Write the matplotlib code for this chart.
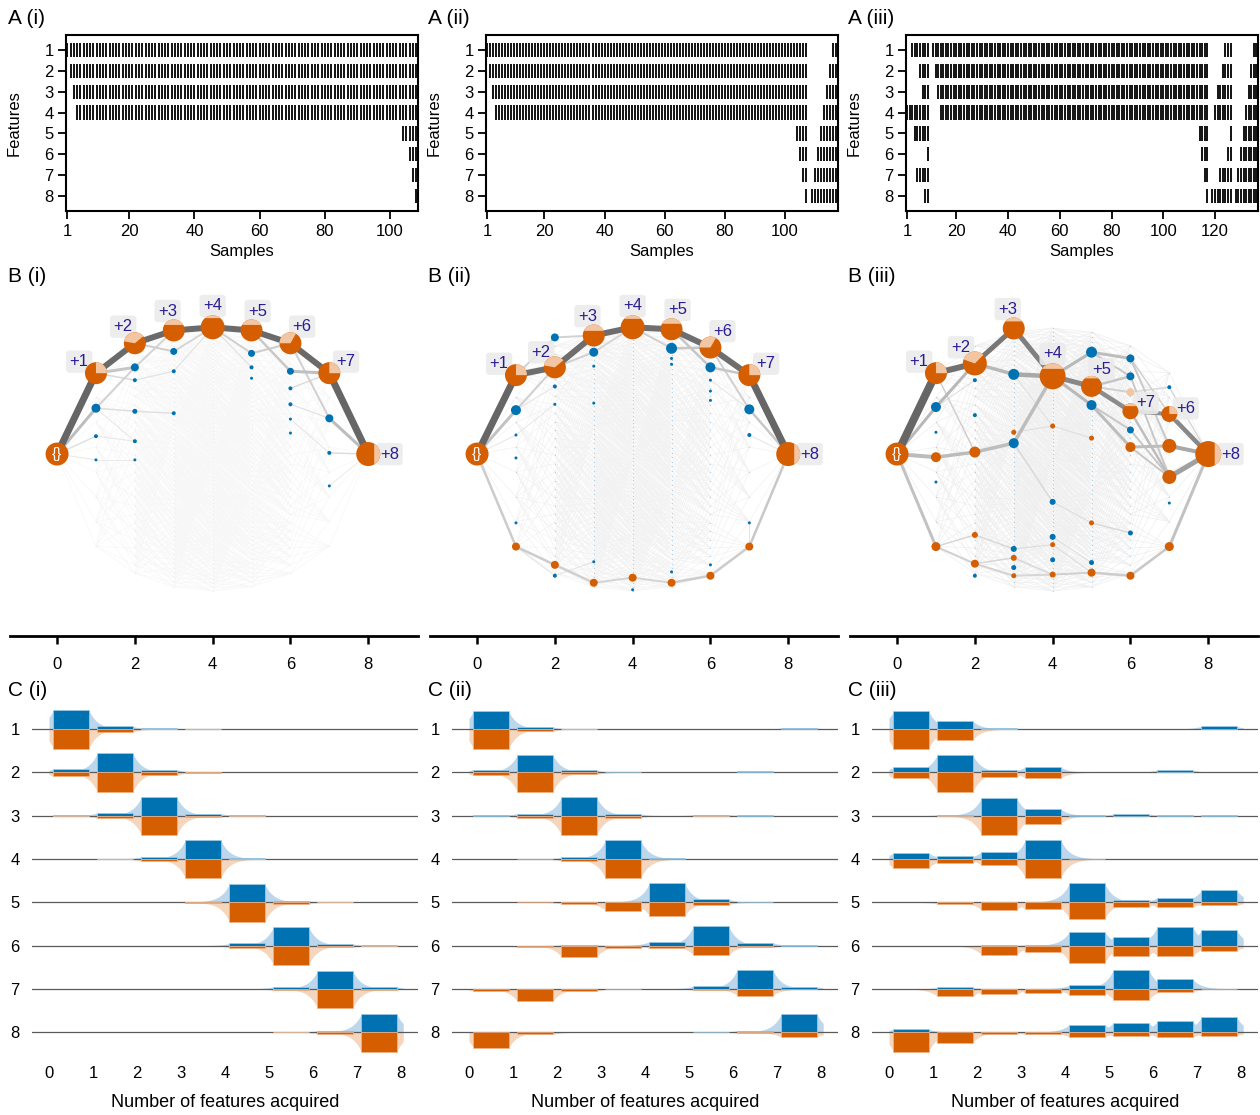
import itertools
import numpy as np
import matplotlib
matplotlib.use("Agg")
import matplotlib.pyplot as plt
from matplotlib.patches import Circle, Wedge, Polygon
from matplotlib.collections import LineCollection

plt.rcParams["font.family"] = ["Liberation Sans", "DejaVu Sans"]

ORANGE = "#d55e00"
BLUE = "#0072b2"
PEACH = "#f2c6a3"
LIGHT_BLUE = "#bcd7eb"
LIGHT_ORANGE = "#f6d5bd"
LABEL_COL = "#2a1d93"

# ---------------- A: samples as (features present, number of samples) ----------------
samples_a1 = [("1", 1), ("12", 1), ("123", 1), ("1234", 100), ("12345", 2),
              ("123456", 1), ("1234567", 1), ("12345678", 1)]
samples_a2 = [("1", 1), ("12", 1), ("123", 1), ("1234", 100), ("12345", 1),
              ("123456", 1), ("1234567", 1), ("12345678", 1), ("", 1),
              ("8", 1), ("78", 1), ("678", 1), ("5678", 1), ("45678", 1),
              ("345678", 1), ("2345678", 1), ("12345678", 2)]
samples_a3 = [("4", 2), ("14", 1), ("145", 1), ("1457", 1), ("12457", 1),
              ("123457", 1), ("1234578", 1), ("12345678", 1), ("", 1),
              ("1", 1), ("12", 1), ("123", 1), ("1234", 100), ("12345", 1),
              ("123456", 1), ("1234567", 1), ("12345678", 1), ("", 1),
              ("8", 1), ("48", 1), ("348", 1), ("3478", 1), ("23478", 1),
              ("123478", 1), ("1234678", 1), ("12345678", 1), ("", 1),
              ("8", 1), ("78", 1), ("678", 1), ("5678", 1), ("45678", 1),
              ("345678", 1), ("2345678", 1), ("12345678", 2)]
xticks_a12 = [1, 20, 40, 60, 80, 100]
xticks_a3 = [1, 20, 40, 60, 80, 100, 120]

# ---------------- B: highlighted nodes of the feature lattice ----------------
# level = number of features, y = vertical position (x-axis units), col o/b/p, rad in px
b1_level = [0, 1, 1, 1, 1, 2, 2, 2, 2, 2, 2, 3, 3, 3, 3, 4, 5, 5, 5, 5,
            6, 6, 6, 6, 6, 6, 7, 7, 7, 7, 8]
b1_y = [0.0, 2.08, 1.18, 0.46, -0.15, 2.85, 2.23, 1.90, 1.10, 0.33, -0.15,
        3.18, 2.64, 2.13, 1.05, 3.26, 3.18, 2.59, 2.23, 1.95, 2.85, 2.13,
        1.69, 1.28, 0.90, 0.54, 2.08, 0.92, 0.03, -0.82, 0.0]
b1_col = "o" + "obbb" + "obbbbb" + "obbb" + "o" + "obbb" + "obbbbb" + "obbb" + "o"
b1_rad = [11.5, 11, 4.5, 2, 1.5, 11, 4, 2, 2.5, 2, 1.5, 11, 3.5, 2, 2, 12,
          11, 3.5, 2, 1.5, 11, 3.5, 2, 2, 1.5, 1.5, 11, 4, 2, 1.5, 12]
b1_path = [0, 1, 5, 11, 15, 16, 20, 26, 30]
b1_labels = ["{}", "+1", "+2", "+3", "+4", "+5", "+6", "+7", "+8"]
b1_light = {1: (0, 90), 5: (40, 170), 11: (30, 150), 15: (50, 130),
            16: (30, 150), 20: (60, 180), 26: (0, 90), 30: (-60, 60)}
b1_edges = [(0, 1, 7, "#666666"), (1, 5, 6, "#6a6a6a"), (5, 11, 6, "#6a6a6a"),
            (11, 15, 6, "#6a6a6a"), (15, 16, 6, "#6a6a6a"), (16, 20, 6, "#6a6a6a"),
            (20, 26, 6, "#6a6a6a"), (26, 30, 7, "#666666"),
            (0, 2, 3, "#bdbdbd"), (1, 6, 3, "#c6c6c6"), (2, 6, 2, "#d2d2d2"),
            (2, 8, 1.5, "#dedede"), (8, 14, 1.5, "#e0e0e0"), (6, 11, 2, "#d4d4d4"),
            (5, 12, 2, "#cfcfcf"), (12, 15, 2, "#d6d6d6"), (13, 15, 1.2, "#e2e2e2"),
            (15, 17, 2, "#d0d0d0"), (17, 20, 2, "#cdcdcd"), (16, 21, 2.5, "#c8c8c8"),
            (21, 26, 3, "#bfbfbf"), (20, 27, 2, "#d0d0d0"), (27, 30, 3, "#bdbdbd"),
            (28, 30, 1.5, "#dcdcdc"), (0, 3, 1.5, "#e0e0e0"), (0, 4, 1, "#e8e8e8"),
            (3, 9, 1, "#e6e6e6"), (1, 7, 1.5, "#dadada"), (7, 13, 1.2, "#e2e2e2"),
            (15, 18, 1.2, "#e2e2e2"), (22, 26, 1.5, "#dcdcdc"), (23, 27, 1.2, "#e2e2e2"),
            (24, 28, 1, "#e6e6e6"), (29, 30, 1, "#ebebeb"), (4, 10, 1, "#eaeaea"),
            (2, 9, 1, "#e6e6e6")]

b2_level = [0, 1, 1, 1, 1, 1, 1, 2, 2, 2, 2, 2, 2, 3, 3, 3, 3, 3, 3, 4, 4, 4,
            5, 5, 5, 5, 5, 5, 6, 6, 6, 6, 6, 6, 6, 7, 7, 7, 7, 7, 8]
b2_y = [0.0, 2.03, 1.13, 0.49, -0.10, -1.77, -2.38, 2.23, 3.00, 1.74, 1.28,
        -2.85, -3.13, 3.05, 2.62, 2.26, 1.31, -2.77, -3.31, 3.26, -3.18, -3.49,
        3.21, 2.72, 2.46, 2.31, -3.03, -3.31, 2.74, 2.23, 1.90, 1.62, 1.38,
        -2.85, -3.13, 2.03, 1.15, 0.49, -1.77, -2.38, 0.0]
b2_col = "o" + "obbbbo" + "obbbob" + "obbbbo" + "oob" + "obbbbo" + "obbbbbo" + "obbbo" + "o"
b2_rad = [11.5, 11, 5, 1.5, 1.5, 1.5, 4, 11, 4, 2, 1.5, 4, 2, 11, 4.5, 1.5, 1.5,
          1.5, 4, 12, 4, 1.5, 11, 5.5, 1.5, 1.5, 1.5, 4, 11, 5, 1.5, 1.5, 1.5,
          1.5, 4, 11, 5, 2, 1.5, 4, 12]
b2_path = [0, 1, 7, 13, 19, 22, 28, 35, 40]
b2_labels = ["{}", "+1", "+2", "+3", "+4", "+5", "+6", "+7", "+8"]
b2_light = {1: (0, 90), 7: (40, 170), 13: (25, 155), 19: (45, 135),
            22: (30, 150), 28: (60, 180), 35: (0, 90), 40: (-60, 60)}
b2_edges = [(0, 1, 7, "#666666"), (1, 7, 6, "#6e6e6e"), (7, 13, 6, "#6e6e6e"),
            (13, 19, 6, "#6e6e6e"), (19, 22, 6, "#6e6e6e"), (22, 28, 6, "#6e6e6e"),
            (28, 35, 6, "#6e6e6e"), (35, 40, 7, "#666666"),
            (0, 2, 3, "#c2c2c2"), (2, 7, 2, "#d0d0d0"), (1, 8, 2, "#d2d2d2"),
            (8, 13, 2, "#d2d2d2"), (7, 14, 2, "#d0d0d0"), (14, 19, 2, "#d6d6d6"),
            (19, 23, 2, "#d0d0d0"), (23, 28, 2.5, "#c6c6c6"), (22, 29, 2.5, "#c6c6c6"),
            (29, 35, 2.5, "#c6c6c6"), (28, 36, 2, "#d0d0d0"), (36, 40, 2.5, "#c8c8c8"),
            (2, 9, 1, "#e4e4e4"), (3, 10, 1, "#e8e8e8"), (0, 3, 1, "#e6e6e6"),
            (37, 40, 1, "#e6e6e6"), (30, 36, 1, "#e4e4e4"),
            (0, 6, 2.5, "#cccccc"), (6, 11, 2.5, "#cccccc"), (11, 18, 2.5, "#d0d0d0"),
            (18, 20, 2, "#d4d4d4"), (20, 27, 2, "#d4d4d4"), (27, 34, 2.5, "#cccccc"),
            (34, 39, 2.5, "#cccccc"), (39, 40, 2.5, "#c8c8c8"), (6, 12, 1, "#e0e0e0"),
            (12, 17, 1, "#e2e2e2"), (38, 39, 1, "#e4e4e4")]

b3_level = [0, 1, 1, 1, 1, 1, 1, 2, 2, 2, 2, 2, 2, 2, 3, 3, 3, 3, 3, 3, 3, 3,
            4, 4, 4, 4, 4, 4, 4, 5, 5, 5, 5, 5, 5, 5, 6, 6, 6, 6, 6, 6, 6, 6,
            7, 7, 7, 7, 7, 7, 8]
b3_y = [0.0,
        2.08, 1.21, -0.08, 0.56, -0.72, -2.38,
        2.33, 0.05, 1.90, 1.00, -2.08, -2.82, -3.13,
        3.23, 2.05, 0.28, 0.56, -2.44, -2.67, -2.92, -3.13,
        2.00, 0.72, -1.23, -2.13, -2.33, -2.72, -3.10,
        2.62, 1.74, 1.26, 0.41, -1.77, -2.79, -3.05,
        2.46, 2.00, 1.59, 1.10, 0.62, 0.18, -2.03, -3.13,
        1.72, 1.03, 0.21, -0.59, -1.26, -2.38,
        0.0]
b3_col = "o" + "obobbo" + "oobboob" + "obbobobo" + "oobbobo" + "boboobo" + "bbpobobo" + "booobo" + "o"
b3_rad = [11.5,
          11, 5, 5, 1.5, 1.5, 4.5,
          12, 5.5, 2, 2, 3, 4, 2,
          11, 5.5, 5, 2.5, 3, 3, 2.5, 2.5,
          13, 2.5, 3, 3, 2.5, 2.5, 3,
          5.5, 10.5, 5, 2.5, 2.5, 2.5, 4,
          4, 4, 4, 8, 3.5, 5, 2.5, 4,
          2, 8, 7, 7, 1.5, 4.5,
          13]
b3_path = [0, 1, 7, 14, 22, 30, 39, 45, 50]
b3_labels = ["{}", "+1", "+2", "+3", "+4", "+5", "+7", "+6", "+8"]
b3_light = {1: (0, 90), 7: (45, 160), 14: (40, 140), 22: (35, 145),
            30: (50, 130), 39: (40, 140), 45: (0, 90), 50: (-60, 60)}
b3_edges = [(0, 1, 8, "#666666"), (1, 7, 6, "#6f6f6f"), (7, 14, 5, "#777777"),
            (14, 22, 5, "#7f7f7f"), (22, 30, 5, "#888888"), (30, 39, 4.5, "#8c8c8c"),
            (39, 45, 4, "#909090"), (45, 50, 4.5, "#888888"),
            (0, 2, 3, "#b8b8b8"), (2, 7, 3, "#b8b8b8"), (0, 3, 4, "#bcbcbc"),
            (3, 8, 3.5, "#bcbcbc"), (8, 16, 3.5, "#bdbdbd"), (16, 22, 3.5, "#bdbdbd"),
            (7, 15, 3.5, "#b8b8b8"), (15, 22, 4.5, "#a9a9a9"), (1, 8, 1.5, "#cfcfcf"),
            (22, 29, 3, "#b8b8b8"), (29, 36, 3, "#bdbdbd"), (29, 37, 2, "#c8c8c8"),
            (22, 31, 3, "#b8b8b8"), (31, 41, 3, "#bdbdbd"), (30, 37, 2.5, "#c4c4c4"),
            (36, 46, 2, "#c8c8c8"), (37, 47, 2, "#c8c8c8"), (39, 47, 2.5, "#bdbdbd"),
            (41, 46, 3, "#bdbdbd"), (46, 50, 4, "#a8a8a8"), (47, 50, 5, "#a0a0a0"),
            (41, 47, 2, "#c8c8c8"), (30, 38, 2, "#d0d0d0"), (38, 44, 1.5, "#d8d8d8"),
            (44, 50, 1.5, "#d8d8d8"), (2, 9, 1, "#dddddd"), (15, 23, 1, "#e0e0e0"),
            (31, 40, 2, "#c8c8c8"), (40, 47, 2, "#c8c8c8"), (36, 45, 1.5, "#d0d0d0"),
            (0, 6, 3, "#c2c2c2"), (6, 12, 2, "#d0d0d0"), (6, 11, 1.5, "#d6d6d6"),
            (12, 21, 2, "#d3d3d3"), (11, 18, 1.5, "#d8d8d8"), (21, 28, 2, "#d6d6d6"),
            (28, 35, 2, "#d0d0d0"), (35, 43, 2.5, "#cccccc"), (43, 49, 2.5, "#c8c8c8"),
            (49, 50, 3, "#c2c2c2"), (19, 28, 1.5, "#d8d8d8"), (18, 26, 1.2, "#dcdcdc"),
            (24, 33, 1, "#dcdcdc"), (33, 42, 1.5, "#dadada"), (17, 23, 1, "#dddddd"),
            (23, 32, 1, "#dddddd"), (16, 24, 1.5, "#d8d8d8"), (12, 19, 1.5, "#d6d6d6"),
            (26, 35, 1, "#dcdcdc"), (25, 34, 1, "#dddddd")]

# ---------------- C: fraction of samples per row (feature) and bin ----------------
c1_blue = [[0.84, 0.12, 0.03, 0.02, 0, 0, 0, 0],
           [0.14, 0.84, 0.12, 0.02, 0, 0, 0, 0],
           [0.01, 0.12, 0.81, 0.09, 0.01, 0, 0, 0],
           [0, 0.01, 0.09, 0.83, 0.02, 0, 0, 0],
           [0, 0, 0, 0.02, 0.80, 0.06, 0.01, 0],
           [0, 0, 0, 0, 0.09, 0.80, 0.07, 0.01],
           [0, 0, 0, 0, 0, 0.09, 0.78, 0.09],
           [0, 0, 0, 0, 0, 0.01, 0.06, 0.80]]
c1_orange = [[0.86, 0.13, 0.02, 0.01, 0, 0, 0, 0],
             [0.17, 0.86, 0.13, 0.01, 0, 0, 0, 0],
             [0.01, 0.12, 0.84, 0.06, 0.01, 0, 0, 0],
             [0, 0.01, 0.09, 0.84, 0.02, 0, 0, 0],
             [0, 0, 0, 0.02, 0.86, 0.06, 0.01, 0],
             [0, 0, 0, 0, 0.09, 0.84, 0.06, 0.01],
             [0, 0, 0, 0, 0, 0.06, 0.84, 0.03],
             [0, 0, 0, 0, 0, 0.01, 0.07, 0.86]]
c2_blue = [[0.77, 0.09, 0.01, 0, 0, 0, 0, 0.04],
           [0.12, 0.77, 0.09, 0.01, 0, 0, 0.04, 0],
           [0.01, 0.09, 0.80, 0.07, 0, 0.04, 0.01, 0],
           [0, 0, 0.07, 0.81, 0.02, 0, 0, 0],
           [0, 0, 0.01, 0.02, 0.83, 0.13, 0.01, 0],
           [0, 0, 0.03, 0, 0.17, 0.84, 0.12, 0.01],
           [0, 0, 0, 0, 0, 0.12, 0.84, 0.09],
           [0, 0, 0, 0, 0, 0.01, 0.06, 0.81]]
c2_orange = [[0.86, 0.10, 0.01, 0, 0, 0, 0, 0],
             [0.13, 0.86, 0.09, 0, 0, 0, 0, 0],
             [0, 0.09, 0.84, 0.09, 0, 0.01, 0, 0],
             [0, 0.01, 0.09, 0.84, 0, 0, 0, 0],
             [0, 0.01, 0.07, 0.36, 0.58, 0.10, 0, 0],
             [0, 0.07, 0.49, 0.09, 0.12, 0.41, 0.07, 0],
             [0.09, 0.55, 0.09, 0.01, 0, 0.06, 0.29, 0],
             [0.68, 0.10, 0, 0, 0, 0, 0.04, 0.22]]
c3_blue = [[0.77, 0.35, 0.03, 0, 0, 0, 0, 0.12],
           [0.22, 0.77, 0.12, 0.23, 0, 0, 0.10, 0],
           [0, 0.03, 0.77, 0.29, 0.01, 0.07, 0.01, 0.01],
           [0.26, 0.14, 0.30, 0.83, 0.01, 0, 0, 0],
           [0, 0.01, 0.01, 0.01, 0.83, 0.10, 0.19, 0.52],
           [0, 0, 0.01, 0.03, 0.60, 0.36, 0.83, 0.67],
           [0, 0.06, 0.01, 0.01, 0.16, 0.84, 0.42, 0.01],
           [0.13, 0, 0.01, 0.01, 0.33, 0.41, 0.47, 0.65]]
c3_orange = [[0.86, 0.47, 0.01, 0, 0, 0, 0, 0],
             [0.25, 0.86, 0.19, 0.25, 0, 0, 0, 0],
             [0, 0.01, 0.84, 0.35, 0, 0, 0, 0],
             [0.39, 0.16, 0.26, 0.83, 0, 0, 0, 0],
             [0, 0.07, 0.33, 0.30, 0.71, 0.19, 0.22, 0.14],
             [0, 0, 0.39, 0.27, 0.75, 0.47, 0.47, 0.22],
             [0, 0.33, 0.22, 0.17, 0.26, 0.47, 0.12, 0],
             [0.86, 0.45, 0.09, 0.10, 0.22, 0.17, 0.23, 0.16]]

W, H = 1260, 1115
PX = 38.9  # pixels per unit in the B panels
fig = plt.figure(figsize=(W / 100, H / 100), dpi=100)


def add_ax(left, top, right, bottom):
    return fig.add_axes([left / W, 1 - bottom / H, (right - left) / W, (bottom - top) / H])


def draw_a(ax, blocks, xticks):
    xs, ys = [], []
    s = 0
    for pattern, count in blocks:
        for _ in range(count):
            s += 1
            for f in pattern:
                xs.append(s)
                ys.append(int(f))
    ys = np.array(ys)
    ax.vlines(xs, ys - 0.34, ys + 0.34, color="#000000", lw=1.3)
    ax.set_xlim(0.6, s + 0.6)
    ax.set_ylim(8.72, 0.28)
    ax.set_yticks(range(1, 9))
    ax.set_xticks(xticks)
    ax.set_xlabel("Samples", fontsize=12)
    ax.set_ylabel("Features", fontsize=12)
    ax.xaxis.set_label_coords(0.5, -0.19)
    ax.yaxis.set_label_coords(-0.125, 0.5)
    for sp in ax.spines.values():
        sp.set_linewidth(1.5)
    ax.tick_params(length=6, width=1.3, labelsize=12, pad=3)


def lattice_y(k, j, n):
    if n == 1:
        return 0.0
    e = np.sqrt(1 - ((k - 4) / 4) ** 2)
    return -0.14 + 3.38 * e * (1 - 2 * j / (n - 1))


def draw_b(ax, level, y, col, rad, edges, path, labels, light, bg_col, dot_alpha):
    pos = {}
    for k in range(9):
        combos = list(itertools.combinations(range(8), k))
        for j, c in enumerate(combos):
            pos[c] = (k, lattice_y(k, j, len(combos)))
    segs = []
    for c, p in pos.items():
        for i in range(8):
            if i not in c:
                segs.append([p, pos[tuple(sorted(c + (i,)))]])
    ax.add_collection(LineCollection(segs, colors=bg_col, linewidths=0.5, zorder=1))
    pts = np.array(list(pos.values()))
    ax.scatter(pts[:, 0], pts[:, 1], s=0.6, color=BLUE, alpha=dot_alpha, lw=0, zorder=2)

    for a, b, w, g in sorted(edges, key=lambda e: e[2]):
        ax.plot([level[a], level[b]], [y[a], y[b]], color=g, lw=w * 0.72,
                solid_capstyle="round", zorder=3)

    colors = {"o": ORANGE, "b": BLUE, "p": PEACH}
    for i in range(len(level)):
        r = rad[i] / PX
        ax.add_patch(Circle((level[i], y[i]), r, color=colors[col[i]], lw=0, zorder=5))
        if i in light:
            t1, t2 = light[i]
            if abs(t1 + t2 - 180) < 1 or abs(t1 + t2) < 1:
                # symmetric light part: circular segment cut by a straight chord
                t = np.radians(np.linspace(t1, t2, 40))
                seg = np.column_stack([level[i] + r * np.cos(t), y[i] + r * np.sin(t)])
                ax.add_patch(Polygon(seg, closed=True, color=PEACH, lw=0, zorder=6))
            else:
                ax.add_patch(Wedge((level[i], y[i]), r, t1, t2, color=PEACH, lw=0, zorder=6))

    for idx, lab in zip(path, labels):
        x0, y0 = level[idx], y[idx]
        if lab == "{}":
            ax.text(x0, y0, lab, color="white", fontsize=11, ha="center", va="center", zorder=7)
            continue
        d = np.array([x0 - 4.0, y0])
        d = d / np.hypot(*d)
        off = rad[idx] / PX + 0.24
        ax.text(x0 + d[0] * off, y0 + d[1] * off, lab, color=LABEL_COL, fontsize=12,
                ha="center", va="center", zorder=4,
                bbox=dict(boxstyle="round,pad=0.22", fc="#ebebeb", ec="none", alpha=0.9))

    ax.set_xlim(-1.21, 9.28)
    ax.set_ylim(-4.68, 4.22)
    for side in ["left", "right", "top"]:
        ax.spines[side].set_visible(False)
    ax.spines["bottom"].set_linewidth(2)
    ax.set_yticks([])
    ax.set_xticks([0, 2, 4, 6, 8])
    ax.tick_params(axis="x", length=6, width=1.8, labelsize=12, pad=9)


xs_env = np.linspace(0, 8.05, 500)


def envelope(h):
    d = np.clip(np.abs(xs_env[:, None] - (np.arange(8) + 0.5)) - 0.4, 0, None)
    return (np.asarray(h)[None, :] * np.exp(-d / 0.2)).max(axis=1)


def draw_c(ax, blue, orange):
    S = 0.53
    bins = np.arange(8) + 0.5
    for r in range(8):
        y0 = r + 1
        hb = np.array(blue[r], float)
        ho = np.array(orange[r], float)
        ax.fill_between(xs_env, y0, y0 - envelope(hb) * S, color=LIGHT_BLUE, lw=0, zorder=1)
        ax.fill_between(xs_env, y0, y0 + envelope(ho) * S, color=LIGHT_ORANGE, lw=0, zorder=1)
        ax.axhline(y0, color="#5a5a5a", lw=0.9, zorder=2)
        mb, mo = hb > 0, ho > 0
        ax.bar(bins[mb], -hb[mb] * S, width=0.8, bottom=y0, color=BLUE,
               edgecolor="#a9cfe8", lw=0.5, zorder=3)
        ax.bar(bins[mo], ho[mo] * S, width=0.8, bottom=y0, color=ORANGE,
               edgecolor="#f3b58a", lw=0.5, zorder=3)
    ax.set_xlim(-0.386, 8.386)
    ax.set_ylim(8.55, 0.353)
    for sp in ax.spines.values():
        sp.set_visible(False)
    ax.set_xticks(range(9))
    ax.set_yticks(range(1, 9))
    ax.tick_params(axis="both", length=0, labelsize=12)
    ax.tick_params(axis="x", pad=7)
    ax.tick_params(axis="y", pad=9)
    ax.set_xlabel("Number of features acquired", fontsize=13)
    ax.xaxis.set_label_coords(0.5, -0.107)


roman = ["i", "ii", "iii"]
a_data = [(samples_a1, xticks_a12), (samples_a2, xticks_a12), (samples_a3, xticks_a3)]
b_data = [(b1_level, b1_y, b1_col, b1_rad, b1_edges, b1_path, b1_labels, b1_light, "#f7f7f7", 0.08),
          (b2_level, b2_y, b2_col, b2_rad, b2_edges, b2_path, b2_labels, b2_light, "#f2f2f2", 0.3),
          (b3_level, b3_y, b3_col, b3_rad, b3_edges, b3_path, b3_labels, b3_light, "#efefef", 0.3)]
c_data = [(c1_blue, c1_orange), (c2_blue, c2_orange), (c3_blue, c3_orange)]

for p in range(3):
    dx = 420 * p
    ax_a = add_ax(66 + dx, 35, 418 + dx, 211)
    draw_a(ax_a, *a_data[p])
    ax_b = add_ax(10 + dx, 290, 418 + dx, 636)
    draw_b(ax_b, *b_data[p])
    ax_c = add_ax(32 + dx, 701, 418 + dx, 1056)
    draw_c(ax_c, *c_data[p])
    for letter, ypx in [("A", 18), ("B", 277), ("C", 690)]:
        fig.text((8 + dx) / W, 1 - ypx / H, f"{letter} ({roman[p]})", fontsize=15, va="center")

fig.savefig("out.png", dpi=100)
